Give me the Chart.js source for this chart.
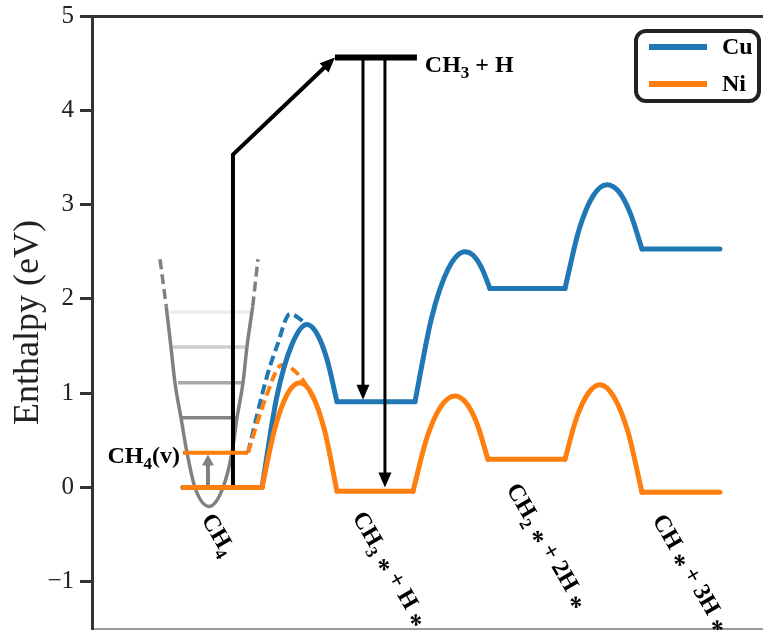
<!DOCTYPE html>
<html><head><meta charset="utf-8">
<script src="https://cdn.jsdelivr.net/npm/chart.js@4/dist/chart.umd.min.js"></script>
<style>html,body{margin:0;padding:0;background:#fff}canvas{display:block}</style>
</head><body>
<canvas id="c" width="763" height="630"></canvas>
<script>
// ---------- axis ranges / ticks ----------
const yTickValues = [-1, 0, 1, 2, 3, 4, 5];
const yMin = -1.5, yMax = 5;
const xMin = 0, xMax = 8.83;          // reaction coordinate (arbitrary units)

// ---------- Cu pathway (reaction coordinate, enthalpy eV) ----------
const cuX = [1.197, 2.237, 2.434, 2.632, 2.829, 2.961, 3.092, 3.224, 4.25, 4.469, 4.689, 4.908, 5.018, 5.127, 5.237,
             6.224, 6.408, 6.592, 6.776, 6.93, 7.083, 7.237, 8.263];
const cuY = [0, 0, 0.97, 1.52, 1.73, 1.63, 1.36, 0.91, 0.91, 1.80, 2.32, 2.50, 2.46, 2.33, 2.11,
             2.11, 2.73, 3.09, 3.21, 3.14, 2.91, 2.53, 2.53];
// ---------- Ni pathway ----------
const niX = [1.197, 2.237, 2.404, 2.57, 2.737, 2.899, 3.062, 3.224, 4.224, 4.408, 4.592, 4.776, 4.921, 5.065, 5.21,
             6.224, 6.377, 6.531, 6.684, 6.868, 7.053, 7.237, 8.263];
const niY = [0, 0, 0.62, 0.99, 1.11, 0.98, 0.60, -0.04, -0.04, 0.53, 0.86, 0.97, 0.90, 0.68, 0.30,
             0.30, 0.74, 1.00, 1.09, 0.96, 0.59, -0.05, -0.05];

// ---------- vibrationally excited pathways (dashed) ----------
const cuVibX = [2.053, 2.303, 2.434, 2.605, 2.829];
const cuVibY = [0.37, 1.18, 1.50, 1.84, 1.73];
const niVibX = [2.053, 2.276, 2.50, 2.737, 2.96];
const niVibY = [0.37, 0.93, 1.30, 1.18, 0.88];

// CH4(v) level
const ch4vX = [1.197, 2.053];
const ch4vY = [0.37, 0.37];

// ---------- potential well (CH4) ----------
const wellX = [0.977, 1.039, 1.092, 1.171, 1.25, 1.355, 1.539, 1.724, 1.842, 1.908, 1.987, 2.039, 2.115];
const wellY = [1.92, 1.49, 1.11, 0.74, 0.37, 0.0, -0.20, 0.0, 0.37, 0.74, 1.11, 1.49, 1.92];
const wellTopLeftX = [0.895, 0.977], wellTopLeftY = [2.42, 1.92];
const wellTopRightX = [2.115, 2.184], wellTopRightY = [1.92, 2.42];

// vibrational levels inside well
const vibLevels = [0.74, 1.11, 1.49, 1.86];
const vibLeft = [1.184, 1.132, 1.066, 1.026];
const vibRight = [1.921, 1.974, 2.013, 2.079];

// gas-phase path CH4 -> CH3 + H and recombination arrows
const gasX = [1.855, 1.855, 3.197];
const gasY = [0, 3.53, 4.56];
const ch3hX = [3.197, 4.276];
const ch3hY = [4.56, 4.56];
const dropCuX = [3.566, 3.566], dropCuY = [4.56, 0.93];
const dropNiX = [3.855, 3.855], dropNiY = [4.56, 0.0];
const pumpX = [1.526, 1.526], pumpY = [0.0, 0.35];

// ---------- helpers ----------
const pts = (xs, ys) => xs.map((x, i) => ({x, y: ys[i]}));
function splitPath(xs, ys) {
  const flats = [], curves = [];
  let cur = null;
  for (let i = 0; i < xs.length - 1; i++) {
    const p = {x: xs[i], y: ys[i]}, q = {x: xs[i + 1], y: ys[i + 1]};
    if (ys[i] === ys[i + 1]) { flats.push([p, q]); cur = null; }
    else { if (!cur) { cur = [p]; curves.push(cur); } cur.push(q); }
  }
  return {flats, curves};
}
function ds(data, color, width, extra) {
  return Object.assign({
    data, borderColor: color, borderWidth: width, pointRadius: 0, fill: false,
    tension: 0, borderCapStyle: 'round', borderJoinStyle: 'round', xAxisID: 'x', yAxisID: 'y'
  }, extra || {});
}
const BLUE = '#1f77b4', ORANGE = '#ff7f0e';
function pathSets(xs, ys, color) {
  const s = splitPath(xs, ys);
  const out = [];
  s.curves.forEach(c => out.push(ds(c, color, 5, {cubicInterpolationMode: 'monotone'})));
  s.flats.forEach(f => out.push(ds(f, color, 5)));
  return out;
}

const datasets = [];
// top-most first
datasets.push(ds(pts(dropCuX, dropCuY), '#000', 3, {borderCapStyle: 'butt', arrowHead: {len: 15, width: 13}}));
datasets.push(ds(pts(dropNiX, dropNiY), '#000', 3, {borderCapStyle: 'butt', arrowHead: {len: 15, width: 13}}));
datasets.push(ds(pts(ch3hX, ch3hY), '#000', 6, {borderCapStyle: 'butt'}));
pathSets(niX, niY, ORANGE).forEach(d => datasets.push(d));
pathSets(cuX, cuY, BLUE).forEach(d => datasets.push(d));
datasets.push(ds(pts(niVibX, niVibY), ORANGE, 4, {cubicInterpolationMode: 'monotone', borderDash: [10, 5], borderCapStyle: 'butt'}));
datasets.push(ds(pts(cuVibX, cuVibY), BLUE, 4, {cubicInterpolationMode: 'monotone', borderDash: [10, 5], borderCapStyle: 'butt'}));
datasets.push(ds(pts(pumpX, pumpY), '#808080', 4, {borderCapStyle: 'butt', arrowHead: {len: 11, width: 12}}));
datasets.push(ds(pts(ch4vX, ch4vY), ORANGE, 4, {borderCapStyle: 'butt'}));
datasets.push(ds(pts(gasX, gasY), '#000', 4, {borderCapStyle: 'butt', borderJoinStyle: 'miter', arrowHead: {len: 15, width: 13}}));
datasets.push(ds(pts(wellX, wellY), '#808080', 3.5, {cubicInterpolationMode: 'monotone', borderCapStyle: 'butt'}));
datasets.push(ds(pts(wellTopLeftX, wellTopLeftY), '#808080', 3.5, {borderDash: [10, 5], borderCapStyle: 'butt'}));
datasets.push(ds(pts(wellTopRightX, wellTopRightY), '#808080', 3.5, {borderDash: [10, 5], borderCapStyle: 'butt'}));
const vibColors = ['#858585', '#a8a8a8', '#cdcdcd', '#ececec'];
vibLevels.forEach((v, i) => datasets.push(ds(pts([vibLeft[i], vibRight[i]], [v, v]), vibColors[i], 3.5, {borderCapStyle: 'butt'})));

// ---------- arrow heads ----------
function arrowGeom(chart, index) {
  const d = chart.getDatasetMeta(index).data;
  const p2 = d[d.length - 1], p1 = d[d.length - 2];
  const dx = p2.x - p1.x, dy = p2.y - p1.y, L = Math.hypot(dx, dy) || 1;
  return {tx: p2.x, ty: p2.y, ux: dx / L, uy: dy / L};
}
const arrowPlugin = {
  id: 'arrowHeads',
  beforeDatasetDraw(chart, args) {
    const d = chart.data.datasets[args.index];
    if (!d.arrowHead) return;
    const g = arrowGeom(chart, args.index), ctx = chart.ctx;
    const len = d.arrowHead.len, hw = d.borderWidth / 2 + 1;
    const nx = -g.uy, ny = g.ux;
    const bx = g.tx - g.ux * len * 0.9, by = g.ty - g.uy * len * 0.9;
    const ex = g.tx + g.ux * 3, ey = g.ty + g.uy * 3;
    ctx.save();
    ctx.beginPath();
    ctx.rect(0, 0, chart.width, chart.height);
    ctx.moveTo(ex + nx * hw, ey + ny * hw);
    ctx.lineTo(bx + nx * hw, by + ny * hw);
    ctx.lineTo(bx - nx * hw, by - ny * hw);
    ctx.lineTo(ex - nx * hw, ey - ny * hw);
    ctx.closePath();
    ctx.clip('evenodd');
  },
  afterDatasetDraw(chart, args) {
    const d = chart.data.datasets[args.index];
    if (!d.arrowHead) return;
    const ctx = chart.ctx;
    ctx.restore();
    const g = arrowGeom(chart, args.index);
    const len = d.arrowHead.len, w = d.arrowHead.width / 2;
    const nx = -g.uy, ny = g.ux;
    const bx = g.tx - g.ux * len, by = g.ty - g.uy * len;
    ctx.save();
    ctx.fillStyle = d.borderColor;
    ctx.beginPath();
    ctx.moveTo(g.tx, g.ty);
    ctx.lineTo(bx + nx * w, by + ny * w);
    ctx.lineTo(bx - nx * w, by - ny * w);
    ctx.closePath();
    ctx.fill();
    ctx.restore();
  }
};

// ---------- text annotations (data-coordinate anchors) ----------
// part flags: 1 = subscript, 2 = centred asterisk
const FONT = '"Liberation Serif", "Times New Roman", serif';
const annotations = [
  {parts: [['CH'], ['4', 1], ['(v)']], x: 1.158, y: 0.35, align: 'right', rot: 0},
  {parts: [['CH'], ['3', 1], [' + H']], x: 4.38, y: 4.49, align: 'left', rot: 0},
  {parts: [['CH'], ['4', 1]], x: 1.526, y: -0.29, align: 'left', rot: 60},
  {parts: [['CH'], ['3', 1], [' '], ['*', 2], [' + H '], ['*', 2]], x: 3.513, y: -0.27, align: 'left', rot: 60},
  {parts: [['CH'], ['2', 1], [' '], ['*', 2], [' + 2H '], ['*', 2]], x: 5.54, y: 0.03, align: 'left', rot: 60},
  {parts: [['CH '], ['*', 2], [' + 3H '], ['*', 2]], x: 7.46, y: -0.30, align: 'left', rot: 60}
];
const legendItems = [['Cu', BLUE], ['Ni', ORANGE]];

function drawParts(ctx, parts, align) {
  const main = 'bold 24px ' + FONT, sub = 'bold 17px ' + FONT, star = 'bold 27px ' + FONT;
  const fontOf = p => (p[1] === 1 ? sub : p[1] === 2 ? star : main);
  const shift = p => (p[1] === 1 ? 14 : p[1] === 2 ? 17 : 8);
  let total = 0;
  parts.forEach(p => { ctx.font = fontOf(p); total += ctx.measureText(p[0]).width; });
  let x = align === 'right' ? -total : 0;
  ctx.textAlign = 'left';
  ctx.textBaseline = 'alphabetic';
  parts.forEach(p => {
    ctx.font = fontOf(p);
    ctx.fillText(p[0], x, shift(p));
    x += ctx.measureText(p[0]).width;
  });
}
const textPlugin = {
  id: 'texts',
  afterDraw(chart) {
    const ctx = chart.ctx, xs = chart.scales.x, ys = chart.scales.y;
    ctx.save();
    ctx.fillStyle = '#000';
    annotations.forEach(a => {
      ctx.save();
      ctx.translate(xs.getPixelForValue(a.x), ys.getPixelForValue(a.y));
      ctx.rotate(a.rot * Math.PI / 180);
      drawParts(ctx, a.parts, a.align);
      ctx.restore();
    });
    // legend
    const ca = chart.chartArea;
    const bw = 123, bh = 70, bx = ca.right - bw - 4, by = ca.top + 15;
    ctx.lineWidth = 4;
    ctx.strokeStyle = '#222';
    ctx.fillStyle = '#fff';
    ctx.beginPath();
    ctx.roundRect(bx, by, bw, bh, 10);
    ctx.fill();
    ctx.stroke();
    legendItems.forEach((it, i) => {
      const y = by + 16 + i * 37;
      ctx.strokeStyle = it[1];
      ctx.lineWidth = 6;
      ctx.beginPath();
      ctx.moveTo(bx + 13, y);
      ctx.lineTo(bx + 71, y);
      ctx.stroke();
      ctx.fillStyle = '#000';
      ctx.font = 'bold 24px ' + FONT;
      ctx.textAlign = 'left';
      ctx.textBaseline = 'middle';
      ctx.fillText(it[0], bx + 86, y + 1);
    });
    ctx.restore();
  }
};

const hiddenX = (pos, color, width) => ({
  type: 'linear', position: pos, min: xMin, max: xMax,
  grid: {display: false, drawTicks: false, tickLength: 0}, ticks: {display: false},
  border: {display: true, color, width},
  afterFit: s => { s.height = 0; s.paddingLeft = 0; s.paddingRight = 0; }
});

new Chart(document.getElementById('c'), {
  type: 'line',
  data: {datasets},
  options: {
    responsive: false,
    animation: false,
    devicePixelRatio: 1,
    layout: {padding: {left: 0, right: 0, top: 16, bottom: 1}},
    plugins: {legend: {display: false}, tooltip: {enabled: false}},
    scales: {
      x: hiddenX('top', '#333', 3),
      x2: hiddenX('bottom', '#999', 2),
      y: {
        type: 'linear', position: 'left', min: yMin, max: yMax,
        afterBuildTicks: s => { s.ticks = yTickValues.map(v => ({value: v})); },
        afterFit: s => { s.width = 92; s.paddingTop = 0; s.paddingBottom = 0; },
        ticks: {
          font: {family: 'Liberation Serif', size: 25}, color: '#222', padding: 6,
          callback: v => (v < 0 ? '\u2212' + Math.abs(v) : String(v))
        },
        grid: {display: true, drawOnChartArea: false, drawTicks: true, tickLength: 12, tickWidth: 3, tickColor: '#333'},
        border: {display: true, color: '#333', width: 3},
        title: {display: true, text: 'Enthalpy (eV)', font: {family: 'Liberation Serif', size: 36}, color: '#222', padding: {top: 7, bottom: 0}}
      }
    }
  },
  plugins: [arrowPlugin, textPlugin]
});
</script>
</body></html>
